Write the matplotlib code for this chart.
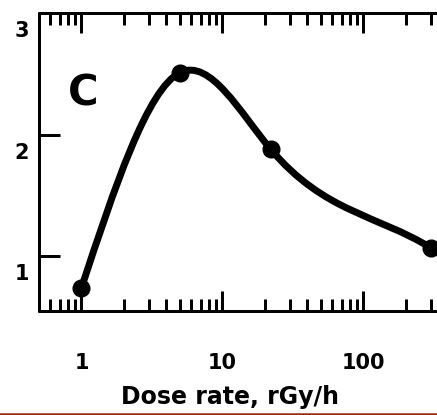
import numpy as np
import matplotlib
matplotlib.use("Agg")
import matplotlib.pyplot as plt
from matplotlib.path import Path
from matplotlib.patches import PathPatch
from matplotlib.lines import Line2D
from matplotlib.ticker import FixedLocator, LogLocator, NullFormatter
import matplotlib.transforms as mtransforms


dose_rate = [1, 5, 22, 300]
response = [0.74, 2.51, 1.88, 1.07]

x_ticks = [1, 10, 100]
x_tick_labels = ["1", "10", "100"]
y_ticks = [1, 2, 3]
y_tick_labels = ["1", "2", "3"]

panel_label = "C"
x_label = "Dose rate, rGy/h"


def smooth_curve(xs, ys):
    # Cubic spline y(log10 x): natural at the left end, last slope tied to the
    # final chord. Written out as exact Bezier segments in log10(x) units.
    u = np.log10(np.asarray(xs, dtype=float))
    y = np.asarray(ys, dtype=float)
    n = len(u)
    h = np.diff(u)
    s = np.diff(y) / h

    A = np.zeros((n, n))
    b = np.zeros(n)
    A[0, 0], A[0, 1], b[0] = 2.0, 1.0, 3 * s[0]
    for i in range(1, n - 1):
        A[i, i - 1] = h[i]
        A[i, i] = 2 * (h[i - 1] + h[i])
        A[i, i + 1] = h[i - 1]
        b[i] = 3 * (h[i] * s[i - 1] + h[i - 1] * s[i])
    A[-1, -1], b[-1] = 1.0, s[-1]
    d = np.linalg.solve(A, b)

    verts = [(u[0], y[0])]
    codes = [Path.MOVETO]
    for i in range(n - 1):
        verts.append((u[i] + h[i] / 3, y[i] + d[i] * h[i] / 3))
        verts.append((u[i + 1] - h[i] / 3, y[i + 1] - d[i + 1] * h[i] / 3))
        verts.append((u[i + 1], y[i + 1]))
        codes += [Path.CURVE4] * 3
    return Path(np.array(verts), codes)


W, H, DPI = 437, 415, 100
fig = plt.figure(figsize=(W / DPI, H / DPI), dpi=DPI)

left, bottom, top = 39, 311, 13
x_lo, x_hi = 0.5, 1000
decade_px = 141
width_px = np.log10(x_hi / x_lo) * decade_px
ax = fig.add_axes([left / W, (H - bottom) / H, width_px / W, (bottom - top) / H])

ax.set_xscale("log")
ax.set_xlim(x_lo, x_hi)
ax.set_ylim(0.55, 3)

lw = 2.16
for side in ["left", "bottom", "top", "right"]:
    ax.spines[side].set_linewidth(lw)
    ax.spines[side].set_capstyle("round")

# the curve lives in scaled (log10) coordinates so the Bezier bends stay smooth
ax.add_patch(PathPatch(smooth_curve(dose_rate, response), facecolor="none",
                       edgecolor="black", linewidth=5, capstyle="round",
                       joinstyle="round", zorder=3,
                       transform=ax.transLimits + ax.transAxes))
ax.plot(dose_rate, response, linestyle="none", marker="o", markersize=12,
        color="black", zorder=4)

ax.xaxis.set_major_locator(FixedLocator(x_ticks))
ax.set_xticklabels(x_tick_labels)
ax.xaxis.set_minor_locator(LogLocator(base=10, subs=np.arange(2, 10)))
ax.xaxis.set_minor_formatter(NullFormatter())
ax.set_yticks(y_ticks)
ax.set_yticklabels(y_tick_labels)

ax.tick_params(axis="x", which="major", direction="in", top=True, bottom=True,
               length=14.4, width=lw, pad=30, labelsize=15)
ax.tick_params(axis="x", which="minor", direction="in", top=True, bottom=True,
               length=8.6, width=lw)
ax.tick_params(axis="y", which="major", direction="in", left=True, right=False,
               length=15, width=lw, pad=7, labelsize=15)
for lab in ax.get_xticklabels() + ax.get_yticklabels():
    lab.set_fontweight("bold")

# y labels sit a little below their ticks
shift = mtransforms.ScaledTranslation(0, -0.16, fig.dpi_scale_trans)
for lab in ax.get_yticklabels():
    lab.set_transform(lab.get_transform() + shift)

ax.text(44 / width_px, (bottom - 93) / (bottom - top), panel_label,
        transform=ax.transAxes, ha="center", va="center",
        fontsize=30, fontweight="bold")

fig.text(230 / W, (H - 385) / H, x_label, ha="center", va="top",
         fontsize=17, fontweight="bold")

fig.add_artist(Line2D([0, 1], [(H - 413.5) / H] * 2, transform=fig.transFigure,
                      color="#9b2a12", linewidth=1.8, zorder=10))

fig.savefig("out.png", dpi=DPI)
